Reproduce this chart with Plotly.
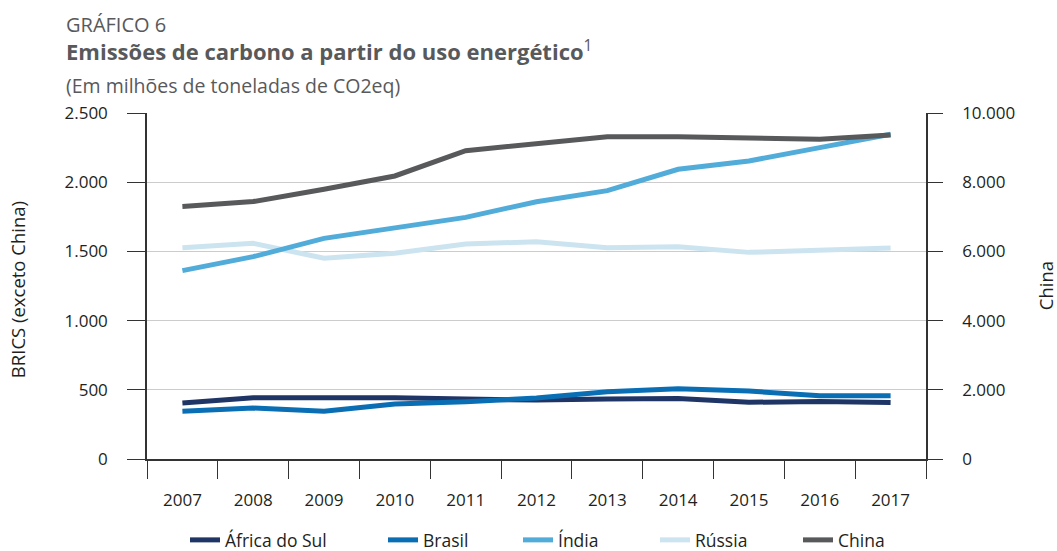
import plotly.graph_objects as go

anos = ["2007", "2008", "2009", "2010", "2011", "2012", "2013", "2014", "2015", "2016", "2017"]

africa_do_sul = [405, 443, 443, 443, 433, 426, 433, 438, 410, 415, 408]
brasil = [345, 368, 345, 397, 414, 440, 486, 508, 491, 457, 457]
india = [1361, 1462, 1594, 1667, 1746, 1859, 1939, 2093, 2153, 2250, 2346]
russia = [1527, 1558, 1450, 1486, 1553, 1570, 1527, 1534, 1493, 1510, 1525]
china = [7300, 7440, 7795, 8180, 8910, 9095, 9315, 9315, 9270, 9240, 9365]

FONT = "Open Sans, sans-serif"
TXT = "#231f20"
W, H = 1057, 551
L, R, T, B = 147, 131, 113, 92
PW, PH = W - L - R, H - T - B

fig = go.Figure()

# nome, valores, cor, eixo, legenda, posicao do texto da legenda (px)
series = [
    ("África do Sul", africa_do_sul, "#1f3566", "y", "legend", 227),
    ("Brasil", brasil, "#0a6eb4", "y", "legend2", 425),
    ("Rússia", russia, "#cce4f0", "y", "legend4", 697),
    ("Índia", india, "#52acd9", "y", "legend3", 560),
    ("China", china, "#58595b", "y2", "legend5", 840),
]
legendas = {}
for nome, vals, cor, eixo, leg, xtxt in series:
    fig.add_trace(go.Scatter(x=anos, y=vals, name=nome, mode="lines", yaxis=eixo,
                             line=dict(color=cor, width=5), legend=leg,
                             hoverinfo="x+y+name"))
    legendas[leg] = dict(orientation="h", x=(xtxt - 42 - L) / PW, y=(H - B - 540) / PH,
                         xanchor="left", yanchor="middle",
                         font=dict(size=17.5, color=TXT), bgcolor="rgba(0,0,0,0)")

fig.update_layout(
    width=W, height=H,
    margin=dict(l=L, r=R, t=T, b=B, autoexpand=False),
    paper_bgcolor="white", plot_bgcolor="white",
    separators=",.",
    font=dict(family=FONT, size=17, color=TXT),
    showlegend=True,
    xaxis=dict(type="category", range=[-0.5, 10.5], showgrid=False,
               showline=True, linecolor="#333", linewidth=1.5,
               ticks="outside", tickson="boundaries", ticklen=18, tickcolor="#333",
               tickfont=dict(size=17), ticklabelstandoff=25),
    yaxis=dict(range=[0, 2500], dtick=500, tickformat=",d",
               showgrid=True, gridcolor="#cccccc", gridwidth=1,
               showline=True, linecolor="#333", linewidth=1.5,
               ticks="outside", ticklen=18, tickcolor="#333",
               tickfont=dict(size=17), ticklabelstandoff=16, zeroline=False),
    yaxis2=dict(range=[0, 10000], dtick=2000, tickformat=",d", overlaying="y", side="right",
                showgrid=False, showline=True, linecolor="#333", linewidth=1.5,
                ticks="outside", ticklen=15, tickcolor="#333",
                tickfont=dict(size=17), ticklabelstandoff=16, zeroline=False),
    **legendas,
)

fig.add_annotation(text="GRÁFICO 6", xref="paper", yref="paper", x=-0.107, y=1.256,
                   xanchor="left", yanchor="middle", showarrow=False,
                   font=dict(size=20, color="#58595b"))
fig.add_annotation(text="<b>Emissões de carbono a partir do uso energético</b><sup>1</sup>",
                   xref="paper", yref="paper", x=-0.107, y=1.18,
                   xanchor="left", yanchor="middle", showarrow=False,
                   font=dict(size=22, color="#58595b"))
fig.add_annotation(text="(Em milhões de toneladas de CO2eq)", xref="paper", yref="paper",
                   x=-0.107, y=1.08, xanchor="left", yanchor="middle", showarrow=False,
                   font=dict(size=19.5, color="#58595b"))
fig.add_annotation(text="BRICS (exceto China)", xref="paper", yref="paper", x=-0.166, y=0.49,
                   textangle=-90, xanchor="center", yanchor="middle", showarrow=False,
                   font=dict(size=18.5, color=TXT))
fig.add_annotation(text="China", xref="paper", yref="paper", x=1.153, y=0.5,
                   textangle=-90, xanchor="center", yanchor="middle", showarrow=False,
                   font=dict(size=18.5, color=TXT))

fig.write_html("out.html", config={"displayModeBar": False},
               post_script="document.body.style.margin='0px';")
